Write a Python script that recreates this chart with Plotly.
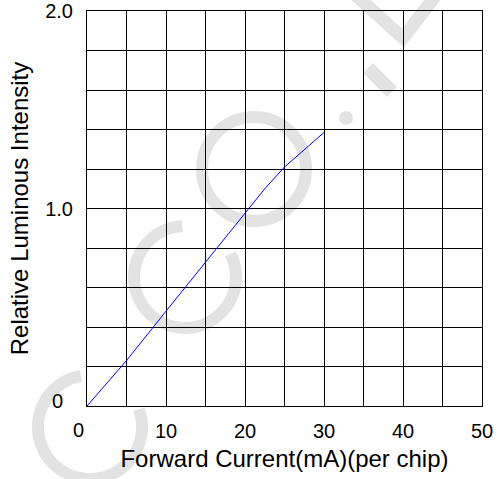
import math
import plotly.graph_objects as go

# ---- data ----
forward_current = [0, 5, 10, 15, 20, 22.5, 25, 27.5, 30]
relative_intensity = [0, 0.23, 0.48, 0.73, 0.98, 1.10, 1.21, 1.30, 1.385]

x_tick_vals = [0, 5, 10, 15, 20, 25, 30, 35, 40, 45, 50]
x_tick_text = ["", "", "10", "", "20", "", "30", "", "40", "", "50"]
y_tick_vals = [0, 0.2, 0.4, 0.6, 0.8, 1.0, 1.2, 1.4, 1.6, 1.8, 2.0]
y_tick_text = ["", "", "", "", "", "1.0", "", "", "", "", "2.0"]

x_title = "Forward Current(mA)(per chip)"
y_title = "Relative Luminous Intensity"

# ---- layout geometry (pixels) ----
W, H = 503, 479
PLOT_L, PLOT_R, PLOT_T, PLOT_B = 87, 482, 11, 406   # target plot box in page pixels
L, T = PLOT_L, PLOT_T
R = W - PLOT_R
B = H - PLOT_B
PW = PLOT_R - PLOT_L
PH = PLOT_B - PLOT_T


def px(xp):
    return (xp - PLOT_L) / PW


def py(yp):
    return (PLOT_B - yp) / PH


FONT = "Liberation Sans, Arial, sans-serif"
TICK_SIZE = 20
TITLE_SIZE = 24
WM = "#e3e3e3"

fig = go.Figure()
fig.add_trace(go.Scatter(x=forward_current, y=relative_intensity, mode="lines",
                         line=dict(color="#0000ff", width=1), showlegend=False,
                         hoverinfo="skip"))

# ---- faint watermark (decoration) ----
shapes = []


def arc_path(cx, cy, r, a0, a1, n=60):
    pts = []
    for i in range(n + 1):
        a = math.radians(a0 + (a1 - a0) * i / n)
        pts.append((px(cx + r * math.cos(a)), py(cy - r * math.sin(a))))
    return "M " + " L ".join(f"{x:.5f},{y:.5f}" for x, y in pts)


for cx, cy, r, a0, a1 in [(90, 427, 52, 100, 380), (185, 277, 51, 93, 387)]:
    shapes.append(dict(type="path", xref="paper", yref="paper", layer="below",
                       path=arc_path(cx, cy, r, a0, a1),
                       line=dict(color=WM, width=12)))
shapes.append(dict(type="circle", xref="paper", yref="paper", layer="below",
                   x0=px(254 - 52), x1=px(254 + 52), y0=py(169 + 52), y1=py(169 - 52),
                   line=dict(color=WM, width=12)))
shapes.append(dict(type="circle", xref="paper", yref="paper", layer="below",
                   x0=px(346 - 7), x1=px(346 + 7), y0=py(118 + 7), y1=py(118 - 7),
                   fillcolor=WM, line=dict(width=0)))
shapes.append(dict(type="line", xref="paper", yref="paper", layer="below",
                   x0=px(368), y0=py(68), x1=px(392), y1=py(92),
                   line=dict(color=WM, width=14)))
shapes.append(dict(type="path", xref="paper", yref="paper", layer="below",
                   path=f"M {px(350):.5f},{py(-10):.5f} L {px(403):.5f},{py(38):.5f} L {px(440):.5f},{py(-10):.5f}",
                   line=dict(color=WM, width=13)))

axis_common = dict(showgrid=True, gridcolor="#000000", gridwidth=1,
                   showline=True, linecolor="#000000", linewidth=1, mirror=True,
                   zeroline=False, ticks="outside", tickcolor="rgba(0,0,0,0)",
                   automargin=False, ticklabeloverflow="allow",
                   tickfont=dict(family=FONT, size=TICK_SIZE, color="#000000"))

fig.update_layout(
    width=W, height=H,
    margin=dict(l=L, r=R, t=T, b=B, pad=0, autoexpand=False),
    paper_bgcolor="white", plot_bgcolor="rgba(0,0,0,0)",
    shapes=shapes,
    xaxis=dict(range=[0, 50], tickmode="array", tickvals=x_tick_vals, ticktext=x_tick_text,
               ticklen=7,
               title=dict(text=x_title, font=dict(family=FONT, size=TITLE_SIZE, color="#000000"),
                          standoff=9),
               **axis_common),
    yaxis=dict(range=[0, 2.0], tickmode="array", tickvals=y_tick_vals, ticktext=y_tick_text,
               ticklen=9,
               title=dict(text=y_title, font=dict(family=FONT, size=TITLE_SIZE, color="#000000"),
                          standoff=9),
               **axis_common),
    annotations=[
        dict(text="0", xref="paper", yref="paper", x=px(78), y=py(430), showarrow=False,
             font=dict(family=FONT, size=TICK_SIZE, color="#000000"), xanchor="center", yanchor="middle"),
        dict(text="0", xref="paper", yref="paper", x=px(57), y=py(401), showarrow=False,
             font=dict(family=FONT, size=TICK_SIZE, color="#000000"), xanchor="center", yanchor="middle"),
    ],
)

# remove the browser's default 8px body margin so the figure sits at the page origin
fig.write_html("out.html", config={"displayModeBar": False},
               post_script="document.body.style.margin='0';")
